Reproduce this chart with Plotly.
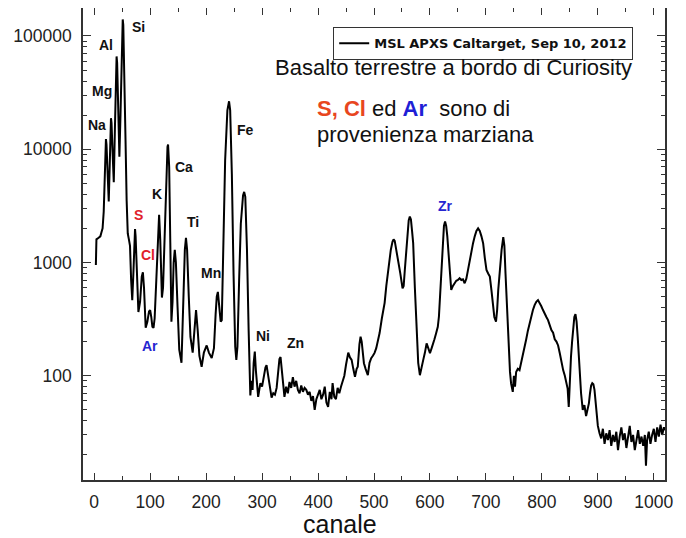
import plotly.graph_objects as go

# ---- spectrum data (channel, counts) ----
channel = [
    3, 4, 8, 11, 13, 15, 17, 19, 21, 22, 24, 26, 28, 30, 31, 33, 35, 37, 39, 40,
    41, 43, 45, 47, 49, 51, 52, 54, 56, 58, 60, 62, 64, 66, 68, 70, 72, 73, 74, 76,
    79, 82, 85, 87, 89, 92, 95, 98, 100, 102, 104, 106, 108, 111, 114, 116, 118, 121, 123, 126,
    129, 131, 132, 134, 136, 138, 140, 142, 144, 146, 149, 152, 156, 159, 162, 164, 166, 169, 172, 176,
    179, 182, 185, 188, 192, 196, 201, 205, 210, 214, 217, 219, 221, 223, 226, 228, 231, 234, 238, 241,
    243, 246, 249, 252, 254, 256, 259, 262, 266, 268, 270, 273, 276, 279, 281, 283, 285, 287, 289, 291,
    293, 295, 297, 300, 303, 306, 308, 310, 313, 315, 317, 320, 323, 326, 329, 331, 333, 335, 337, 340,
    343, 346, 349, 352, 355, 358, 361, 364, 367, 370, 373, 376, 379, 382, 385, 388, 391, 394, 397, 400,
    403, 406, 409, 412, 415, 418, 421, 424, 426, 429, 432, 435, 438, 441, 444, 447, 450, 452, 454, 457,
    460, 463, 466, 469, 471, 474, 476, 478, 480, 482, 485, 489, 492, 495, 498, 501, 504, 507, 510, 514,
    519, 522, 525, 528, 530, 533, 535, 537, 540, 543, 547, 551, 553, 555, 557, 560, 562, 564, 566, 568,
    570, 573, 576, 579, 582, 585, 588, 591, 594, 597, 600, 603, 605, 608, 611, 614, 616, 618, 620, 622,
    625, 627, 629, 631, 633, 636, 638, 641, 644, 647, 650, 653, 656, 659, 662, 665, 668, 671, 674, 677,
    680, 683, 686, 689, 692, 695, 698, 701, 704, 707, 710, 712, 715, 718, 720, 722, 725, 728, 731, 733,
    735, 737, 739, 741, 743, 745, 748, 750, 752, 754, 757, 760, 763, 766, 769, 772, 775, 778, 781, 784,
    787, 790, 793, 796, 799, 802, 805, 808, 811, 814, 817, 820, 823, 826, 829, 832, 835, 838, 841, 844,
    846, 848, 850, 852, 854, 856, 858, 860, 862, 864, 866, 868, 870, 873, 876, 879, 882, 884, 886, 888,
    890, 892, 894, 896, 898, 900, 903, 906, 909, 912, 915, 918, 921, 924, 927, 930, 933, 936, 939, 942,
    945, 948, 951, 954, 957, 960, 963, 966, 969, 972, 975, 978, 981, 984, 986, 988, 991, 994, 997, 1000,
    1003, 1006, 1009, 1012, 1015, 1018, 1020,
]
counts = [
    950, 1600, 1650, 1700, 1850, 2000, 2800, 6000, 12300, 11000, 6000, 3450, 8000, 18800, 17000, 9000, 5100, 15000, 50000, 66000,
    58000, 20000, 8600, 20000, 80000, 140000, 125000, 50000, 12000, 3500, 1800, 1600, 1400, 700, 465, 800, 1700, 1970, 1700, 800,
    365, 450, 750, 820, 600, 265, 300, 370, 380, 330, 270, 265, 320, 700, 1800, 2630, 1600, 490, 600, 2000,
    7000, 10500, 11000, 7000, 1500, 300, 450, 1000, 1290, 1000, 400, 170, 130, 400, 1300, 1650, 1300, 500, 220, 160,
    250, 380, 250, 150, 120, 160, 185, 160, 143, 175, 350, 500, 550, 420, 300, 310, 1500, 8000, 22000, 26500,
    22000, 6000, 800, 180, 138, 180, 700, 2200, 3900, 4200, 3800, 1300, 250, 67, 90, 75, 130, 163, 110, 80,
    65, 75, 86, 80, 100, 118, 124, 105, 85, 75, 64, 70, 68, 78, 110, 140, 146, 120, 90, 65,
    80, 70, 88, 78, 97, 80, 90, 75, 70, 82, 72, 78, 75, 68, 72, 60, 66, 50, 62, 70,
    75, 62, 68, 80, 58, 53, 72, 62, 86, 65, 62, 78, 70, 80, 92, 100, 125, 150, 160, 145,
    138, 115, 98, 115, 120, 190, 221, 200, 150, 129, 115, 101, 130, 143, 150, 159, 175, 200, 238, 320,
    440, 620, 860, 1100, 1290, 1520, 1600, 1550, 1300, 1050, 800, 590, 620, 850, 1130, 1800, 2350, 2540, 2400, 1900,
    1480, 600, 253, 130, 101, 115, 138, 160, 193, 175, 158, 175, 193, 210, 237, 270, 332, 500, 802, 1400,
    2100, 2300, 2100, 1700, 1210, 750, 573, 620, 655, 690, 700, 725, 700, 710, 655, 720, 860, 1050, 1300, 1480,
    1700, 1900, 2000, 1900, 1700, 1480, 1100, 860, 800, 750, 560, 435, 330, 300, 380, 570, 900, 1290, 1670, 1400,
    800, 450, 253, 160, 108, 85, 72, 100, 80, 108, 115, 112, 129, 150, 180, 210, 250, 290, 330, 380,
    420, 450, 465, 440, 410, 380, 350, 330, 310, 280, 253, 240, 210, 200, 185, 158, 130, 112, 100, 85,
    77, 53, 100, 147, 200, 280, 330, 350, 300, 220, 140, 98, 70, 50, 55, 44, 52, 57, 70, 82,
    86, 84, 75, 60, 44, 36, 31, 28, 34, 25, 31, 27, 33, 24, 30, 26, 32, 22, 29, 35,
    27, 31, 23, 30, 36, 26, 30, 22, 28, 33, 25, 29, 24, 30, 16, 27, 32, 25, 30, 34,
    26, 35, 29, 37, 30, 35, 33,
]

# ---- tick labels ----
y_tickvals = [100, 1000, 10000, 100000]
y_ticktext = ["100", "1000", "10000", "100000"]
y_minor = [m * 10 ** e for e in range(1, 6) for m in range(2, 10)]

# ---- element labels: (text, colour, page pixel x, page pixel y) ----
elements = ["Si", "Al", "Mg", "Na", "Fe", "Ca", "K", "S", "Ti", "Cl", "Mn", "Ar", "Ni", "Zn", "Zr"]
elem_colors = ["#111", "#111", "#111", "#111", "#111", "#111", "#111", "#e0202a", "#111",
               "#e0202a", "#111", "#2525d0", "#111", "#111", "#2525d0"]
elem_px = [138, 106, 102, 97, 245, 184, 157, 138, 193, 148, 211, 150, 263, 295, 445]
elem_py = [27, 45, 91, 125, 130, 167, 194, 215, 222, 255, 273, 346, 336, 343, 206]

# page has an 8px body margin: figure is offset by (8, 8)
OFF = 8
W, H = 686 - OFF, 538 - OFF
L, R, T, B = 83, 665, 8, 480          # plot area in page pixels


def P(px, py):
    return (px - L) / (R - L), (B - py) / (B - T)


fig = go.Figure()
fig.add_trace(go.Scatter(
    x=channel, y=counts, mode="lines",
    line=dict(color="black", width=2),
    name="MSL APXS Caltarget, Sep 10, 2012",
))

annotations = []
for t, c, px, py in zip(elements, elem_colors, elem_px, elem_py):
    ax, ay = P(px, py)
    annotations.append(dict(
        x=ax, y=ay, xref="paper", yref="paper", text="<b>%s</b>" % t,
        showarrow=False, xanchor="center", yanchor="middle",
        font=dict(family="Liberation Sans", size=14, color=c),
    ))

big = dict(family="Liberation Sans", size=22, color="#111")
ax, ay = P(273, 67)
annotations.append(dict(
    x=ax, y=ay, xref="paper", yref="paper",
    text="Basalto terrestre a bordo di Curiosity",
    showarrow=False, xanchor="left", yanchor="middle", font=big,
))
ax, ay = P(315, 108)
annotations.append(dict(
    x=ax, y=ay, xref="paper", yref="paper",
    text="<b><span style='color:#e8461e'>S, Cl</span></b> ed "
         "<b><span style='color:#1f1fd6'>Ar</span></b>\u00a0 sono di",
    showarrow=False, xanchor="left", yanchor="middle", font=big,
))
ax, ay = P(315, 135)
annotations.append(dict(
    x=ax, y=ay, xref="paper", yref="paper",
    text="provenienza marziana",
    showarrow=False, xanchor="left", yanchor="middle", font=big,
))
ax, ay = P(340, 523.5)
annotations.append(dict(
    x=ax, y=ay, xref="paper", yref="paper",
    text="canale",
    showarrow=False, xanchor="center", yanchor="middle", borderpad=0,
    font=dict(family="Liberation Sans", size=25, color="#111"),
))

lx, ly = P(333, 27)
fig.update_layout(
    width=W, height=H,
    margin=dict(l=L - OFF, r=W - (R - OFF), t=T - OFF, b=H - (B - OFF), autoexpand=False),
    paper_bgcolor="white", plot_bgcolor="white",
    showlegend=True,
    legend=dict(
        x=lx, y=ly, xanchor="left", yanchor="top",
        bgcolor="white", bordercolor="#333", borderwidth=1.2,
        font=dict(family="DejaVu Sans", size=13, color="#111", weight="bold"),
        tracegroupgap=0, itemwidth=30,
    ),
    annotations=annotations,
    font=dict(family="Liberation Sans", color="#222"),
)
fig.update_xaxes(
    range=[-20, 1020], dtick=100, tick0=0,
    showline=True, linecolor="#333", linewidth=1.5, mirror="allticks",
    ticks="inside", ticklen=7, tickwidth=1.3, tickcolor="#333",
    minor=dict(ticks="inside", ticklen=4, dtick=50, tickcolor="#333", tickwidth=1.2),
    showgrid=False, zeroline=False,
    tickfont=dict(family="Liberation Sans", size=17.5, color="#222"),
    ticklabelstandoff=5,
)
fig.update_yaxes(
    type="log", range=[1.079, 5.247],
    tickmode="array", tickvals=y_tickvals, ticktext=y_ticktext,
    showline=True, linecolor="#333", linewidth=1.5, mirror="allticks",
    ticks="inside", ticklen=8, tickwidth=1.3, tickcolor="#333",
    minor=dict(ticks="inside", ticklen=4, tickmode="array", tickvals=y_minor,
               tickcolor="#333", tickwidth=1.2),
    showgrid=False, zeroline=False,
    tickfont=dict(family="Liberation Sans", size=17.5, color="#222"),
    ticklabelstandoff=6,
)

fig.write_html("out.html")
